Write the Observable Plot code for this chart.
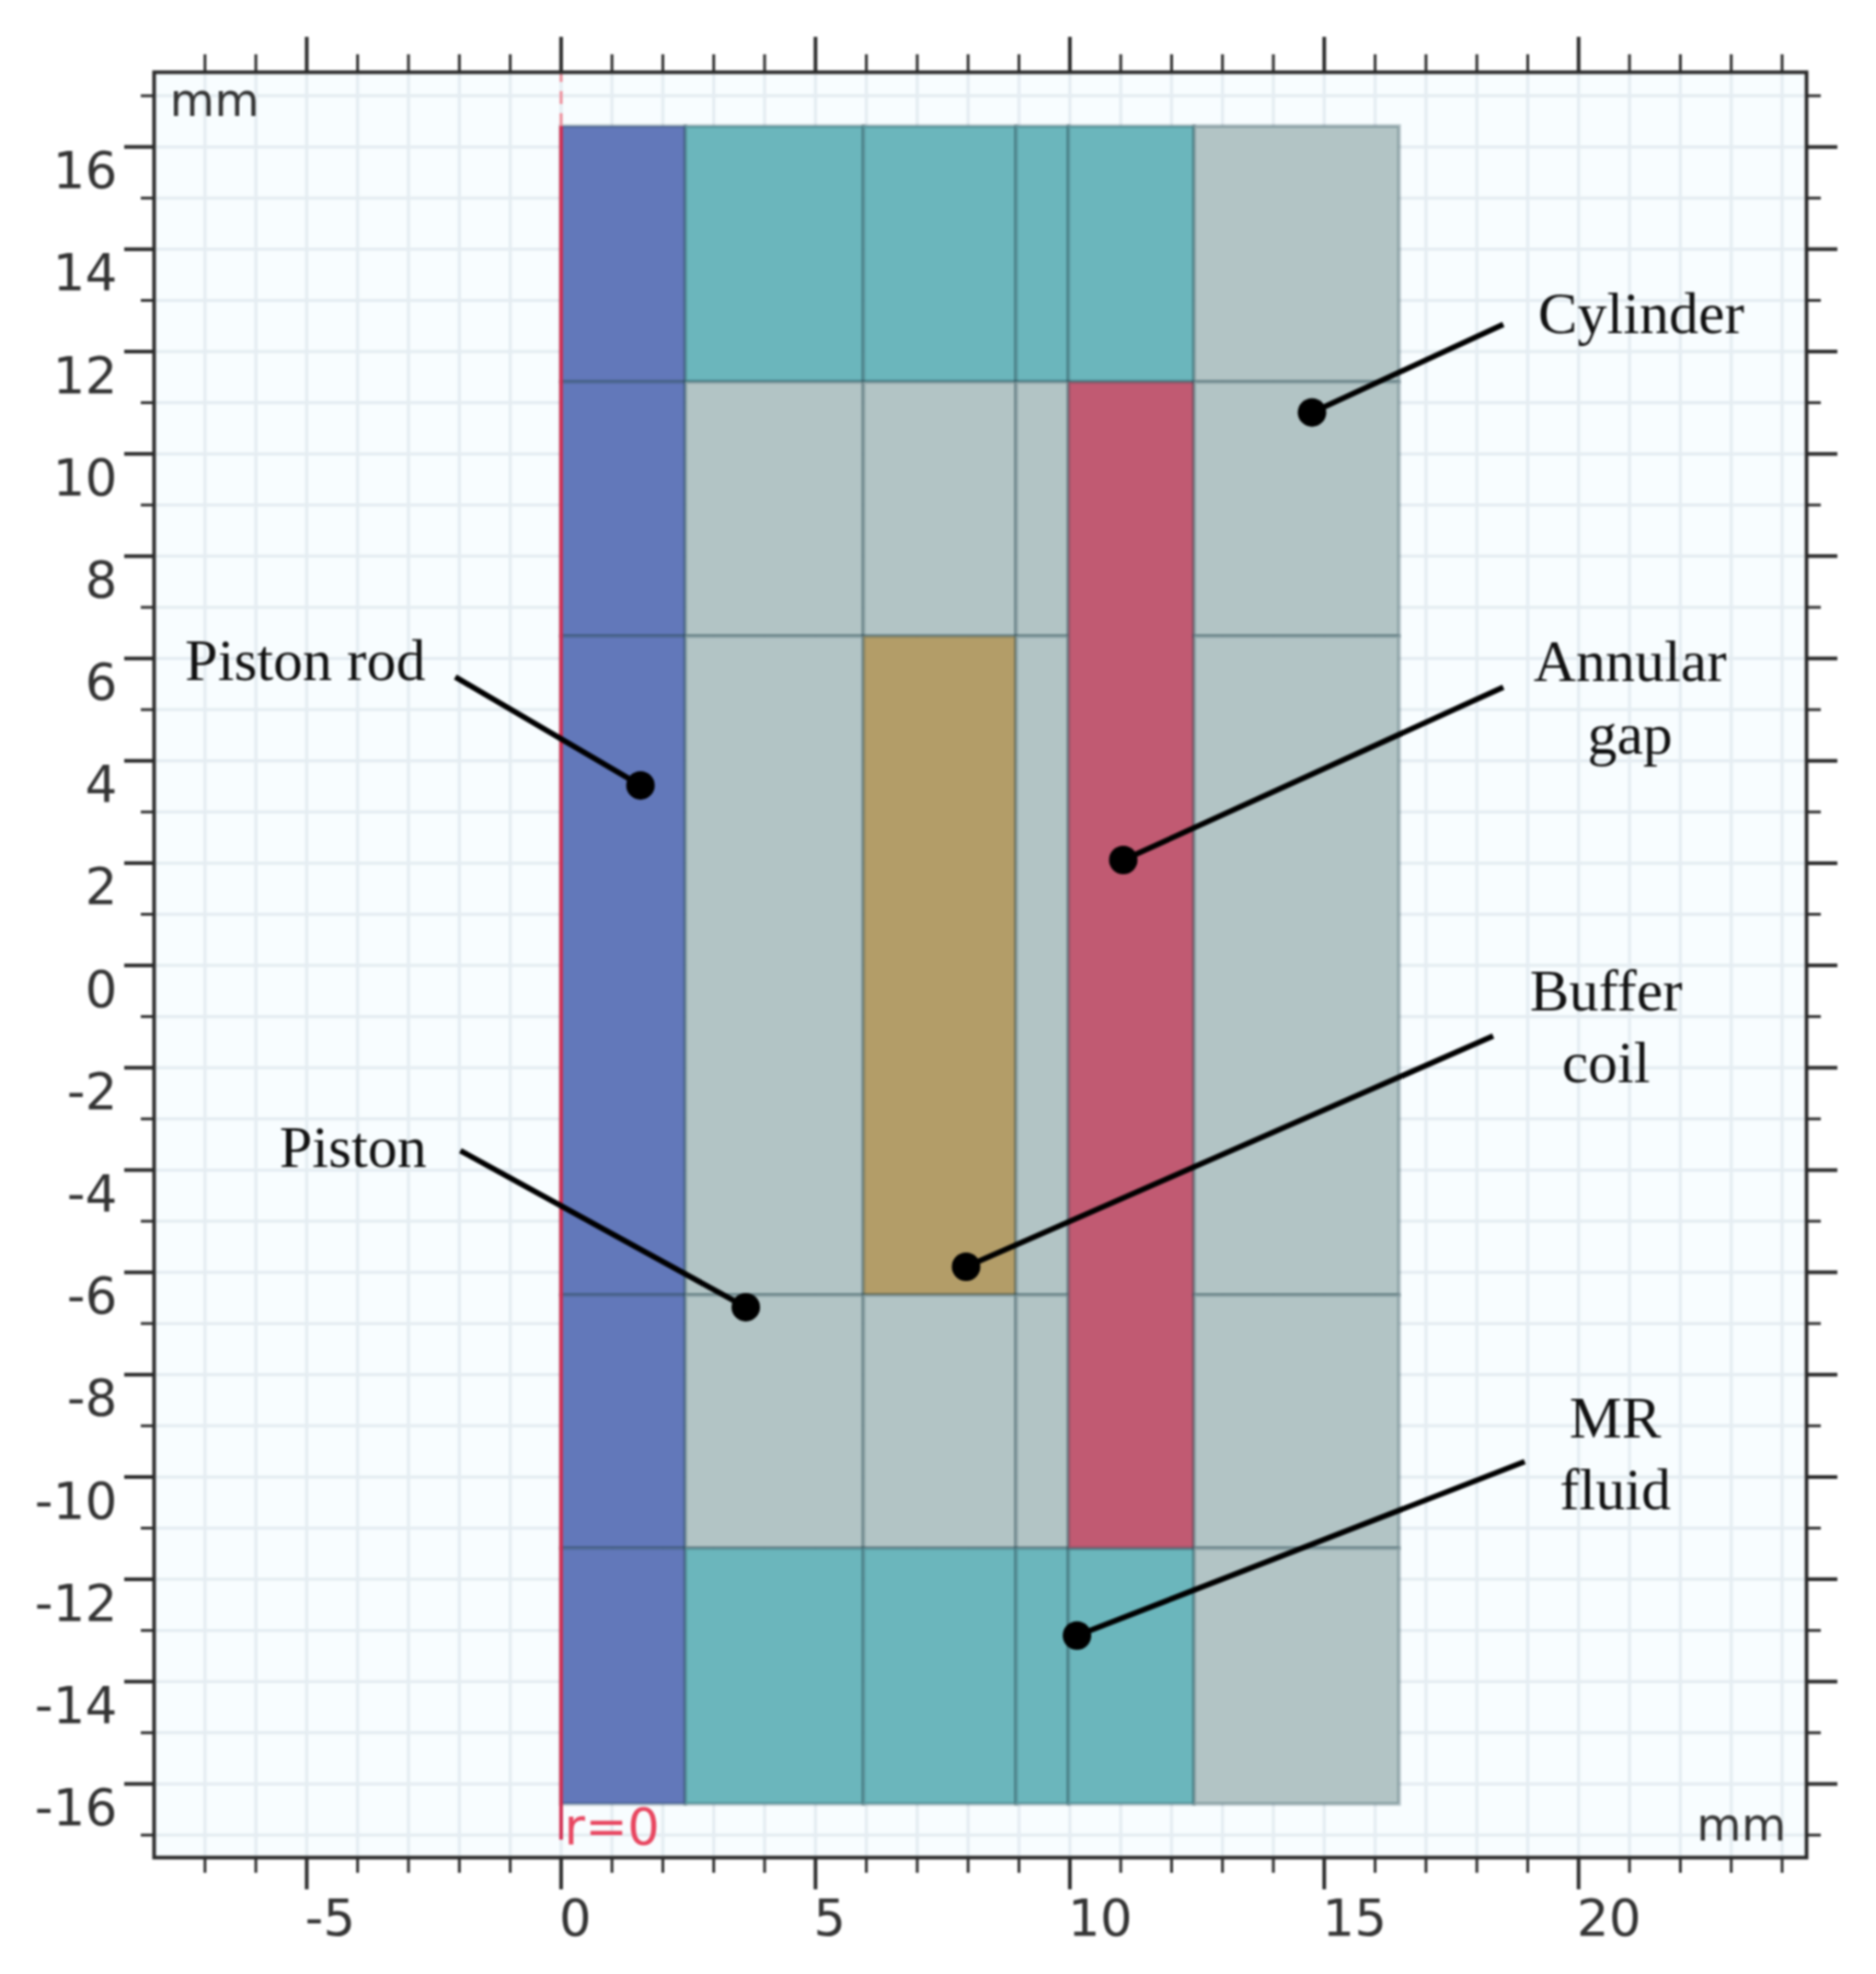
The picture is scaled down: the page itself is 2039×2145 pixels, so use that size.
<!DOCTYPE html>
<html><head><meta charset="utf-8">
<script src="https://cdn.jsdelivr.net/npm/d3@7"></script>
<script src="https://cdn.jsdelivr.net/npm/@observablehq/plot@0.6"></script>
<style>html,body{margin:0;background:#fff}svg{display:block;filter:blur(1px)}</style>
</head><body><div id="c"></div>
<script>
const majorX = [-5,0,5,10,15,20];
const minorX = [-7,-6,-4,-3,-2,-1,1,2,3,4,6,7,8,9,11,12,13,14,16,17,18,19,21,22,23,24];
const majorY = [-16,-14,-12,-10,-8,-6,-4,-2,0,2,4,6,8,10,12,14,16];
const minorY = [-17,-15,-13,-11,-9,-7,-5,-3,-1,1,3,5,7,9,11,13,15,17];

const materials = ["rod","fluid","steel","coil","gap"];
const materialColors = ["#6278ba","#6bb6bc","#b2c4c5","#b39d68","#c15a72"];

const cellX1 = [0,0,0,0,0, 2.45,5.95,8.95,9.98, 2.45,5.95,8.95, 2.45,5.95,8.95, 2.45,5.95,8.95, 2.45,5.95,8.95,9.98, 9.98, 12.45,12.45,12.45,12.45,12.45];
const cellX2 = [2.45,2.45,2.45,2.45,2.45, 5.95,8.95,9.98,12.45, 5.95,8.95,9.98, 5.95,8.95,9.98, 5.95,8.95,9.98, 5.95,8.95,9.98,12.45, 12.45, 16.48,16.48,16.48,16.48,16.48];
const cellY1 = [11.4,6.43,-6.45,-11.4,-16.4, 11.4,11.4,11.4,11.4, 6.43,6.43,6.43, -6.45,-6.45,-6.45, -11.4,-11.4,-11.4, -16.4,-16.4,-16.4,-16.4, -11.4, 11.4,6.43,-6.45,-11.4,-16.4];
const cellY2 = [16.4,11.4,6.43,-6.45,-11.4, 16.4,16.4,16.4,16.4, 11.4,11.4,11.4, 6.43,6.43,6.43, -6.45,-6.45,-6.45, -11.4,-11.4,-11.4,-11.4, 11.4, 16.4,11.4,6.43,-6.45,-11.4];
const cellMaterial = ["rod","rod","rod","rod","rod", "fluid","fluid","fluid","fluid", "steel","steel","steel", "steel","coil","steel", "steel","steel","steel", "fluid","fluid","fluid","fluid", "gap", "steel","steel","steel","steel","steel"];

const calloutX1 = [14.76,11.05,7.96,10.14,1.56,3.63];
const calloutY1 = [10.81,2.06,-5.89,-13.10,3.52,-6.68];
const calloutX2 = [18.52,18.52,18.32,18.94,-2.08,-1.98];
const calloutY2 = [12.53,5.44,-1.38,-9.70,5.64,-3.62];

const labelText = ["Cylinder","Annular","gap","Buffer","coil","MR","fluid","Piston rod","Piston"];
const labelX = [21.23,21.01,21.01,20.54,20.54,20.72,20.72,-5.03,-4.09];
const labelY = [12.72,5.93,4.50,-0.52,-1.92,-8.86,-10.27,5.95,-3.57];

const unitText = ["mm","mm"];
const unitX = [-6.81,23.2];
const unitY = [16.9,-16.82];

const idx = d3.range(cellX1.length);
const calloutIdx = d3.range(calloutX1.length);
const labelIdx = d3.range(labelText.length);
const axisColor = "#2b2b2b", textColor = "#333";

const plot = Plot.plot({
  width: 2039, height: 2145,
  marginLeft: 167, marginRight: 76, marginTop: 78, marginBottom: 127,
  x: {domain: [-8, 24.48], axis: null, label: null},
  y: {domain: [-17.44, 17.46], axis: null, label: null},
  color: {type: "ordinal", domain: materials, range: materialColors},
  style: {fontFamily: "DejaVu Sans", background: "#fff"},
  marks: [
    Plot.frame({fill: "#f8fdff", stroke: "none"}),
    Plot.ruleX(majorX.concat(minorX), {stroke: "#e5edf2", strokeWidth: 3.5}),
    Plot.ruleY(majorY.concat(minorY), {stroke: "#e5edf2", strokeWidth: 3.5}),
    Plot.rect(idx, {
      x1: i => cellX1[i], x2: i => cellX2[i], y1: i => cellY1[i], y2: i => cellY2[i],
      fill: i => cellMaterial[i], stroke: "#23474f", strokeOpacity: 0.3, strokeWidth: 4
    }),
    Plot.ruleX([0], {y1: -17.1, y2: 16.4, stroke: "#d02f52", strokeWidth: 4}),
    Plot.ruleX([0], {y1: 16.4, y2: 17.46, stroke: "#ef8a96", strokeWidth: 3, strokeDasharray: "14,10"}),
    Plot.text(["r=0"], {x: [1.0], y: [-16.86], text: d => d, fontSize: 55, fill: "#e8455f"}),
    Plot.text(unitText, {x: (d, i) => unitX[i], y: (d, i) => unitY[i], text: d => d, fontSize: 50, fill: textColor}),
    Plot.frame({stroke: axisColor, strokeWidth: 4}),
    Plot.axisX({anchor: "top", ticks: majorX, tickSize: 39, tickFormat: () => "", stroke: axisColor, strokeWidth: 4, label: null}),
    Plot.axisX({anchor: "top", ticks: minorX, tickSize: 20, tickFormat: () => "", stroke: axisColor, strokeWidth: 3, label: null}),
    Plot.axisX({anchor: "bottom", ticks: majorX, tickSize: 35, tickFormat: () => "", stroke: axisColor, strokeWidth: 4, label: null}),
    Plot.axisX({anchor: "bottom", ticks: minorX, tickSize: 17, tickFormat: () => "", stroke: axisColor, strokeWidth: 3, label: null}),
    Plot.axisX({anchor: "bottom", ticks: majorX, tickSize: 0, tickPadding: 45, dx: -2, tickFormat: d => String(d), textAnchor: "start", fontSize: 55, fill: textColor, label: null}),
    Plot.axisY({anchor: "left", ticks: majorY, tickSize: 32, tickFormat: () => "", stroke: axisColor, strokeWidth: 4, label: null}),
    Plot.axisY({anchor: "left", ticks: minorY, tickSize: 14, tickFormat: () => "", stroke: axisColor, strokeWidth: 3, label: null}),
    Plot.axisY({anchor: "left", ticks: majorY, tickSize: 0, tickPadding: 40, dy: 27, tickFormat: d => String(d), textAnchor: "end", fontSize: 55, fill: textColor, label: null}),
    Plot.axisY({anchor: "right", ticks: majorY, tickSize: 33, tickFormat: () => "", stroke: axisColor, strokeWidth: 4, label: null}),
    Plot.axisY({anchor: "right", ticks: minorY, tickSize: 15, tickFormat: () => "", stroke: axisColor, strokeWidth: 3, label: null}),
    Plot.link(calloutIdx, {x1: i => calloutX1[i], y1: i => calloutY1[i], x2: i => calloutX2[i], y2: i => calloutY2[i], stroke: "#000", strokeWidth: 6}),
    Plot.dot(calloutIdx, {x: i => calloutX1[i], y: i => calloutY1[i], r: 15.5, fill: "#000"}),
    Plot.text(labelIdx, {x: i => labelX[i], y: i => labelY[i], text: i => labelText[i], fontFamily: "Liberation Serif", fontSize: 64, fill: "#111"})
  ]
});
document.getElementById("c").append(plot);
</script>
</body></html>
